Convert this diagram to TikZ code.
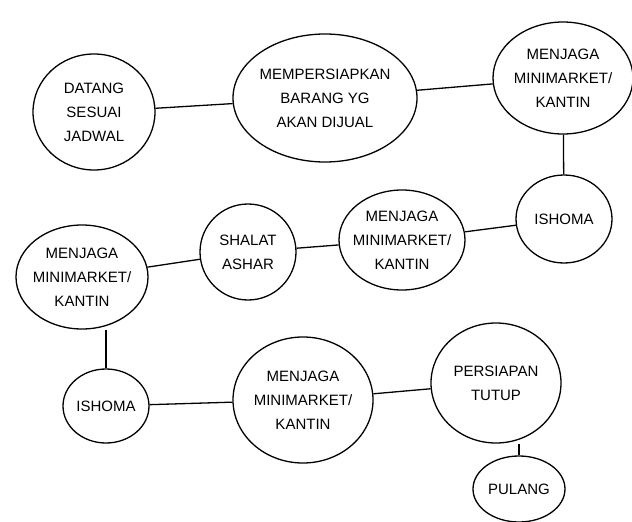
\documentclass[tikz,border=0pt]{standalone}
\usepackage{fontspec}
\setmainfont{Liberation Sans}
\usetikzlibrary{shapes.geometric}

\begin{document}
\begin{tikzpicture}[x=1pt, y=-1pt, line width=1.3pt,
    bubble/.style={ellipse, draw, inner xsep=-10pt, inner ysep=-4pt, align=center,
      font=\fontsize{15}{24}\selectfont}]
    \useasboundingbox (0,0) rectangle (632,522);

    % Top row
    \node[bubble, minimum width=122, minimum height=116] (datang) at (94,112) {DATANG\\SESUAI\\JADWAL};
    \node[bubble, minimum width=184, minimum height=128] (siap) at (325,98) {MEMPERSIAPKAN\\BARANG YG\\AKAN DIJUAL};
    \node[bubble, minimum width=140, minimum height=112] (jaga1) at (563,78) {MENJAGA\\MINIMARKET/\\KANTIN};

    % Middle row
    \node[bubble, minimum width=96, minimum height=88] (ishoma1) at (564,219) {ISHOMA};
    \node[bubble, minimum width=126, minimum height=100] (jaga2) at (402,240) {MENJAGA\\MINIMARKET/\\KANTIN};
    \node[bubble, minimum width=96, minimum height=96] (shalat) at (248,252) {SHALAT\\ASHAR};
    \node[bubble, minimum width=132, minimum height=104] (jaga3) at (82,277) {MENJAGA\\MINIMARKET/\\KANTIN};

    % Bottom row
    \node[bubble, minimum width=86, minimum height=74] (ishoma2) at (106,406) {ISHOMA};
    \node[bubble, minimum width=140, minimum height=126] (jaga4) at (303,400) {MENJAGA\\MINIMARKET/\\KANTIN};
    \node[bubble, minimum width=130, minimum height=120] (tutup) at (496,383) {PERSIAPAN\\TUTUP};
    \node[bubble, minimum width=92, minimum height=66] (pulang) at (519,489) {PULANG};

    % Connectors
    \draw (datang) -- (siap);
    \draw (siap) -- (jaga1);
    \draw (jaga1) -- (ishoma1);
    \draw (ishoma1) -- (jaga2);
    \draw (jaga2) -- (shalat);
    \draw (shalat) -- (jaga3);
    \draw (ishoma2) -- (ishoma2 |- jaga3.south);
    \draw (ishoma2) -- (jaga4);
    \draw (jaga4) -- (tutup);
    \draw (pulang) -- (pulang |- tutup.south);
\end{tikzpicture}
\end{document}
